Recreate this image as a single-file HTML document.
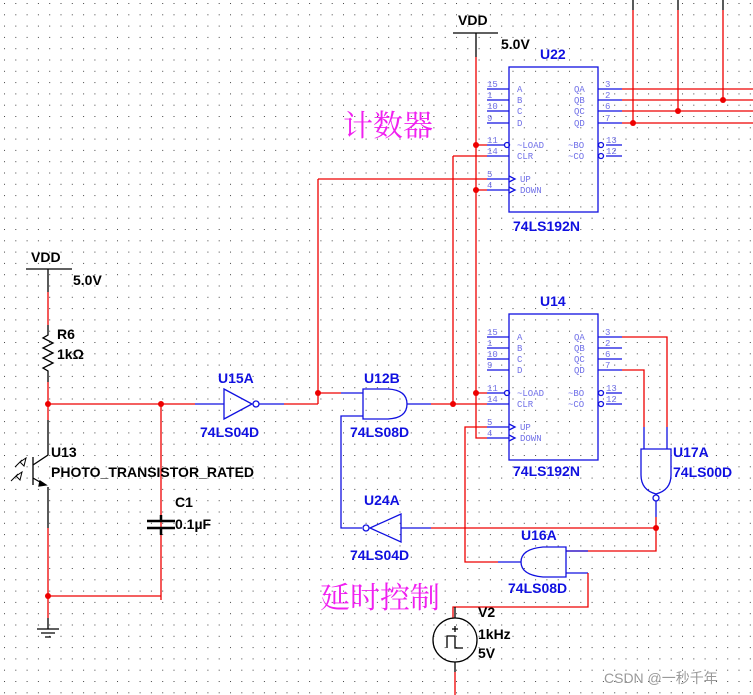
<!DOCTYPE html>
<html><head><meta charset="utf-8"><style>
html,body{margin:0;padding:0;background:#fff;}
svg{display:block;}
.b{fill:#1010e0;font:bold 14px "Liberation Sans",sans-serif;}
.k{fill:#000;font:bold 14px "Liberation Sans",sans-serif;}
.p{fill:#7070e8;font:9px "Liberation Mono",monospace;}
</style></head><body>
<svg width="753" height="695" xmlns="http://www.w3.org/2000/svg">
<defs><pattern id="g" width="11.3" height="11.3" patternUnits="userSpaceOnUse" x="4" y="3"><rect width="1" height="1" fill="#444"/></pattern></defs>
<rect width="753" height="695" fill="#fff"/>
<rect width="753" height="695" fill="url(#g)"/>
<g fill="none" stroke-width="1.3">
<!-- top VDD -->
<path d="M453 33H498M476 33V57" stroke="#000"/>
<path d="M476 57V438H487M476 145H487M476 190H487M476 393H487" stroke="#e00"/>
<!-- top bus verticals -->
<path d="M633 0V10M678 0V10M723 0V10" stroke="#000"/>
<path d="M633 10V123M678 10V111M723 10V100" stroke="#e00"/>
<path d="M622 89H753M622 100H753M622 111H753M622 123H753" stroke="#e00"/>
<!-- U22 -->
<g stroke="#1010e0">
<rect x="509" y="67" width="89" height="145"/>
<path d="M487 89H509M487 100H509M487 111H509M487 123H509M487 145H505M487 156H509M487 179H509M487 190H509"/>
<path d="M598 89H622M598 100H622M598 111H622M598 123H622M606 145H622M606 156H622"/>
<circle cx="507" cy="145" r="2.5"/><circle cx="601" cy="145" r="2.5"/><circle cx="601" cy="156" r="2.5"/>
<path d="M509 176l6 3-6 3M509 187l6 3-6 3"/>
</g>
<path d="M453 156H487M453 156V404M318 179H487M318 179V404" stroke="#e00"/>
<!-- U14 -->
<g stroke="#1010e0">
<rect x="509" y="314" width="89" height="146"/>
<path d="M487 337H509M487 348H509M487 359H509M487 370H509M487 393H505M487 404H509M487 427H509M487 438H509"/>
<path d="M598 337H622M598 348H622M598 359H622M598 370H622M606 393H622M606 404H622"/>
<circle cx="507" cy="393" r="2.5"/><circle cx="601" cy="393" r="2.5"/><circle cx="601" cy="404" r="2.5"/>
<path d="M509 424l6 3-6 3M509 435l6 3-6 3"/>
</g>
<path d="M622 337H667V427M622 370H644V427" stroke="#e00"/>
<!-- U17A NAND -->
<g stroke="#1010e0">
<path d="M667 427V449M644 427V449"/>
<path d="M641 449H671V475Q671 490 656 494Q641 490 641 475Z"/>
<circle cx="656" cy="498" r="3"/>
<path d="M656 501V517"/>
</g>
<path d="M656 517V551H566" stroke="#e00"/>
<!-- left circuit -->
<path d="M26 269H72M48 269V292" stroke="#000"/>
<path d="M48 292V325M48 382V420M48 528V618M48 404H195M161 404V600M161 600V596H48M161 404V515M161 535V596" stroke="#e00"/>
<path d="M48 325V335l-5 3 10 5-10 5 10 5-10 5 10 5-10 5 5 3V382" stroke="#000"/>
<path d="M48 420V455L33 465M33 457V485M33 478L45 485M48 487V528" stroke="#000"/>
<path d="M40 481l6 4-7 1z" fill="#000" stroke="#000"/>
<path d="M20 462l6-4-2 8zM16 476l6-4-2 8zM22 460l-7 7M18 474l-7 7" stroke="#000" stroke-width="1"/>
<path d="M48 618V629M37 629H59M41 633H55M45 637H51" stroke="#000"/>
<path d="M161 515V521M147 521H175M147 528H175M161 528V535" stroke="#000" stroke-width="2.5"/>
<!-- U15A -->
<g stroke="#1010e0">
<path d="M195 404H224M224 389V419L252 404Z"/>
<circle cx="256" cy="404" r="3"/>
<path d="M259 404H284"/>
</g>
<path d="M284 404H318M318 393H341" stroke="#e00"/>
<!-- U12B -->
<g stroke="#1010e0">
<path d="M341 393H363M363 389H388Q407 390 407 404Q407 418 388 419H363Z"/>
<path d="M363 416H341V528H362"/>
<path d="M407 404H431"/>
</g>
<path d="M431 404H487" stroke="#e00"/>
<!-- U24A -->
<g stroke="#1010e0">
<circle cx="366" cy="528" r="3"/>
<path d="M370 528L401 514V542Z"/>
<path d="M401 528H431"/>
</g>
<path d="M431 528H656" stroke="#e00"/>
<!-- U16A -->
<g stroke="#1010e0">
<path d="M566 547H543Q521 549 521 562Q521 575 543 577H566Z"/>
<path d="M566 551H588M566 573H588M521 562H498"/>
</g>
<path d="M498 562H465V427H487M588 573V607H453V618" stroke="#e00"/>
<!-- V2 -->
<circle cx="455" cy="640" r="22" stroke="#000"/>
<path d="M455 618V607M455 662V672M447 648V636H455V648H463" stroke="#000"/>
<path d="M455 672V695" stroke="#e00"/>
<path d="M452 629H458M455 626V632" stroke="#000"/>
</g>
<!-- junction dots -->
<g fill="#e00">
<circle cx="476" cy="145" r="3"/><circle cx="476" cy="190" r="3"/><circle cx="476" cy="393" r="3"/>
<circle cx="633" cy="123" r="3"/><circle cx="678" cy="111" r="3"/><circle cx="723" cy="100" r="3"/>
<circle cx="48" cy="404" r="3"/><circle cx="161" cy="404" r="3"/><circle cx="48" cy="596" r="3"/>
<circle cx="318" cy="393" r="3"/><circle cx="453" cy="404" r="3"/><circle cx="656" cy="528" r="3"/>
</g>
<!-- pin labels -->
<g class="p">
<text x="487" y="87">15</text><text x="487" y="98">1</text><text x="487" y="109">10</text><text x="487" y="121">9</text>
<text x="487" y="143">11</text><text x="487" y="154">14</text><text x="487" y="177">5</text><text x="487" y="188">4</text>
<text x="517" y="92">A</text><text x="517" y="103">B</text><text x="517" y="114">C</text><text x="517" y="126">D</text>
<text x="517" y="148">~LOAD</text><text x="517" y="159">CLR</text><text x="520" y="182">UP</text><text x="520" y="193">DOWN</text>
<text x="574" y="92">QA</text><text x="574" y="103">QB</text><text x="574" y="114">QC</text><text x="574" y="126">QD</text>
<text x="568" y="148">~BO</text><text x="568" y="159">~CO</text>
<text x="605" y="87">3</text><text x="605" y="98">2</text><text x="605" y="109">6</text><text x="605" y="121">7</text>
<text x="606" y="143">13</text><text x="606" y="154">12</text>
<text x="487" y="335">15</text><text x="487" y="346">1</text><text x="487" y="357">10</text><text x="487" y="368">9</text>
<text x="487" y="391">11</text><text x="487" y="402">14</text><text x="487" y="425">5</text><text x="487" y="436">4</text>
<text x="517" y="340">A</text><text x="517" y="351">B</text><text x="517" y="362">C</text><text x="517" y="373">D</text>
<text x="517" y="396">~LOAD</text><text x="517" y="407">CLR</text><text x="520" y="430">UP</text><text x="520" y="441">DOWN</text>
<text x="574" y="340">QA</text><text x="574" y="351">QB</text><text x="574" y="362">QC</text><text x="574" y="373">QD</text>
<text x="568" y="396">~BO</text><text x="568" y="407">~CO</text>
<text x="605" y="335">3</text><text x="605" y="346">2</text><text x="605" y="357">6</text><text x="605" y="368">7</text>
<text x="606" y="391">13</text><text x="606" y="402">12</text>
</g>
<!-- labels -->
<text class="k" x="458" y="25">VDD</text><text class="k" x="501" y="49">5.0V</text>
<text class="k" x="31" y="262">VDD</text><text class="k" x="73" y="285">5.0V</text>
<text class="k" x="57" y="339">R6</text><text class="k" x="57" y="359">1kΩ</text>
<text class="k" x="51" y="457">U13</text><text class="k" x="51" y="477">PHOTO_TRANSISTOR_RATED</text>
<text class="k" x="175" y="507">C1</text><text class="k" x="175" y="529">0.1µF</text>
<text class="k" x="478" y="617">V2</text><text class="k" x="478" y="639">1kHz</text><text class="k" x="478" y="658">5V</text>
<text class="b" x="540" y="59">U22</text><text class="b" x="513" y="231">74LS192N</text>
<text class="b" x="540" y="306">U14</text><text class="b" x="513" y="476">74LS192N</text>
<text class="b" x="218" y="383">U15A</text><text class="b" x="200" y="437">74LS04D</text>
<text class="b" x="364" y="383">U12B</text><text class="b" x="350" y="437">74LS08D</text>
<text class="b" x="673" y="457">U17A</text><text class="b" x="673" y="477">74LS00D</text>
<text class="b" x="364" y="505">U24A</text><text class="b" x="350" y="560">74LS04D</text>
<text class="b" x="521" y="540">U16A</text><text class="b" x="508" y="593">74LS08D</text>
<text x="343" y="136" fill="#f020f0" font-family="'Noto Serif CJK SC','Noto Sans CJK SC',serif" font-size="30">计数器</text>
<text x="320" y="608" fill="#f020f0" font-family="'Noto Serif CJK SC','Noto Sans CJK SC',serif" font-size="30">延时控制</text>
<text x="604" y="683" fill="#999" font-family="'Liberation Sans','Noto Sans CJK SC',sans-serif" font-size="14">CSDN @一秒千年</text>
</svg>
</body></html>
